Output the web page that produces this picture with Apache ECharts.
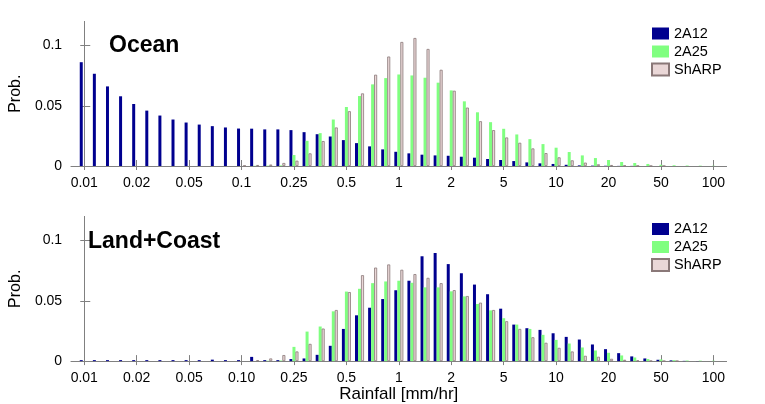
<!DOCTYPE html>
<html>
<head>
<meta charset="utf-8">
<script src="https://cdn.jsdelivr.net/npm/echarts@6/dist/echarts.min.js"></script>
<style>
  html, body { margin: 0; padding: 0; background: #fff; }
  #chart { width: 765px; height: 404px; }
</style>
</head>
<body>
<div id="chart"></div>
<script>
// bin labels (one label every 4 bins, bins 0..48)
const topTickLabels = ['0.01', '0.02', '0.05', '0.1', '0.25', '0.5', '1', '2', '5', '10', '20', '50', '100'];
const bottomTickLabels = ['0.01', '0.02', '0.05', '0.10', '0.25', '0.5', '1', '2', '5', '10', '20', '50', '100'];
const seriesNames = ['2A12', '2A25', 'ShARP'];

// Ocean
const oceanA12 = [0.0862, 0.0766, 0.0661, 0.0579, 0.0515, 0.046, 0.0419, 0.0386, 0.0361, 0.0344, 0.0331, 0.032, 0.0311, 0.031, 0.0304, 0.0304,
  0.0298, 0.0281, 0.0264, 0.0245, 0.0215, 0.019, 0.0163, 0.0138, 0.0118, 0.0105, 0.0094, 0.0088, 0.0085, 0.0077, 0.0069, 0.0058, 0.005,
  0.0041, 0.003, 0.0022, 0.0017, 0.001, 0.0005, 0.0003, 0.0002, 0.0001, 0.0001, 0, 0, 0, 0, 0, 0];
const oceanA25 = [0, 0, 0, 0, 0, 0, 0, 0, 0, 0, 0, 0, 0, 0.0002, 0.0003, 0.0005,
  0.0091, 0.0209, 0.0273, 0.0386, 0.049, 0.0581, 0.0678, 0.073, 0.076, 0.0752, 0.0733, 0.0692, 0.0628, 0.0537, 0.0446, 0.0364, 0.0309,
  0.0262, 0.0223, 0.0182, 0.0152, 0.0116, 0.0088, 0.0066, 0.005, 0.0033, 0.0025, 0.0017, 0.001, 0.0006, 0.0004, 0.0003, 0.0002];
const oceanSharp = [0, 0, 0, 0, 0, 0, 0, 0, 0, 0, 0, 0, 0.0003, 0.0008, 0.0012, 0.0025,
  0.0044, 0.0105, 0.0207, 0.032, 0.0455, 0.0603, 0.0758, 0.0909, 0.103, 0.1063, 0.0972, 0.0799, 0.0625, 0.0485, 0.0372, 0.0298, 0.0237,
  0.0193, 0.0146, 0.0107, 0.0072, 0.0047, 0.0028, 0.0014, 0.0008, 0.0004, 0.0002, 0.0001, 0.0001, 0, 0, 0, 0];

// Land+Coast
const landA12 = [0.0008, 0.0008, 0.0008, 0.0008, 0.0008, 0.0008, 0.0008, 0.0008, 0.0008, 0.0008, 0.0012, 0.0008, 0.0008, 0.0035, 0.0008, 0.0008,
  0.0017, 0.0022, 0.0052, 0.0127, 0.0267, 0.038, 0.0443, 0.0515, 0.0588, 0.0667, 0.087, 0.0897, 0.0805, 0.0729, 0.0635, 0.0555, 0.0435,
  0.0303, 0.0273, 0.0259, 0.0231, 0.0201, 0.0179, 0.0138, 0.0099, 0.0066, 0.0039, 0.0022, 0.0011, 0.0006, 0.0002, 0.0001, 0];
const landA25 = [0, 0, 0, 0, 0, 0, 0, 0, 0, 0, 0, 0, 0, 0, 0.0003, 0.0005,
  0.0118, 0.0245, 0.0287, 0.0413, 0.0577, 0.06, 0.0647, 0.0661, 0.0667, 0.065, 0.0612, 0.0612, 0.0579, 0.0537, 0.0474, 0.0421, 0.0356,
  0.0303, 0.0267, 0.0218, 0.0176, 0.0146, 0.0113, 0.0088, 0.0069, 0.0047, 0.003, 0.0017, 0.0014, 0.0008, 0.0005, 0.0004, 0.0003];
const landSharp = [0, 0, 0, 0, 0, 0, 0, 0, 0, 0, 0, 0, 0, 0.0008, 0.0022, 0.005,
  0.008, 0.0143, 0.027, 0.0424, 0.0573, 0.0713, 0.0776, 0.0802, 0.0758, 0.0722, 0.0691, 0.0647, 0.0589, 0.054, 0.0485, 0.0424, 0.0331,
  0.0267, 0.0198, 0.0152, 0.011, 0.008, 0.0044, 0.0036, 0.0019, 0.0011, 0.0006, 0.0003, 0.0001, 0.0001, 0, 0, 0];

const FONT = '"Liberation Sans", Arial, Helvetica, sans-serif';
const FRAME = '#808080';
const labelBins = topTickLabels.map((_, k) => k * 4);

const chart = echarts.init(document.getElementById('chart'));

// x = bin index, so every bar goes through the value axis; empty bins draw nothing
const toPts = (arr) => arr.map((v, i) => [i, v > 0 ? v : '-']);

function xAxes(gridIndex, labels, withName) {
  return [
    {
      type: 'value', gridIndex, position: 'bottom', min: -1, max: 49,
      name: withName ? 'Rainfall [mm/hr]' : '', nameLocation: 'middle', nameGap: 24,
      nameTextStyle: { fontSize: 17, color: '#000', fontFamily: FONT },
      axisLine: { lineStyle: { color: FRAME } },
      axisTick: { customValues: labelBins, length: 4, lineStyle: { color: FRAME } },
      axisLabel: {
        customValues: labelBins, margin: 10, fontSize: 14, color: '#000', fontFamily: FONT,
        formatter: (v) => labels[Math.round(v / 4)],
      },
      splitLine: { show: false },
    },
    {
      type: 'value', gridIndex, position: 'top', min: -1, max: 49,
      axisLine: { lineStyle: { color: FRAME } },
      axisTick: { customValues: labelBins, length: 6, lineStyle: { color: FRAME } },
      axisLabel: { show: false },
      splitLine: { show: false },
    },
  ];
}

function yAxes(gridIndex) {
  return [
    {
      type: 'value', gridIndex, position: 'left', min: 0, max: 0.12,
      name: 'Prob.', nameLocation: 'middle', nameGap: 40, nameRotate: 90,
      nameTextStyle: { fontSize: 16, color: '#000', fontFamily: FONT },
      axisLine: { show: true, lineStyle: { color: FRAME } },
      axisTick: { show: true, customValues: [0, 0.05, 0.1], length: 4, lineStyle: { color: FRAME } },
      axisLabel: { customValues: [0, 0.05, 0.1], margin: 9, fontSize: 14, color: '#000', fontFamily: FONT },
      splitLine: { show: false },
    },
    {
      type: 'value', gridIndex, position: 'right', min: 0, max: 0.12,
      axisLine: { show: true, lineStyle: { color: FRAME } },
      axisTick: { show: true, customValues: [0, 0.05, 0.1], length: 6, lineStyle: { color: FRAME } },
      axisLabel: { show: false },
      splitLine: { show: false },
    },
  ];
}

function panelSeries(panel, a12, a25, sharp) {
  const common = { type: 'bar', xAxisIndex: panel * 2, yAxisIndex: panel * 2, barWidth: 3, barGap: '0%', animation: false };
  return [
    { ...common, name: seriesNames[0], data: toPts(a12), itemStyle: { color: '#00008f' } },
    { ...common, name: seriesNames[1], data: toPts(a25), itemStyle: { color: '#80ff80' } },
    { ...common, name: seriesNames[2], data: toPts(sharp), itemStyle: { color: '#ead7d7', borderColor: '#8a7878', borderWidth: 0.8 } },
  ];
}

function legendAt(top) {
  return {
    data: seriesNames, orient: 'vertical', left: 651, top, padding: 0,
    itemWidth: 17, itemHeight: 12, itemGap: 3, icon: 'rect',
    textStyle: { fontSize: 14.5, color: '#000', fontFamily: FONT },
  };
}

const option = {
  backgroundColor: '#fff',
  animation: false,
  title: [
    { text: 'Ocean', left: 109, top: 34.5, padding: 0, textStyle: { fontSize: 23, fontWeight: 'bold', color: '#000', fontFamily: FONT } },
    { text: 'Land+Coast', left: 88, top: 230, padding: 0, textStyle: { fontSize: 23, fontWeight: 'bold', color: '#000', fontFamily: FONT } },
  ],
  legend: [legendAt(26), legendAt(221.5)],
  grid: [
    { left: 67.5, width: 659, top: 21.5, height: 144.5 },
    { left: 67.5, width: 659, top: 216.5, height: 145.5 },
  ],
  xAxis: [...xAxes(0, topTickLabels, false), ...xAxes(1, bottomTickLabels, true)],
  yAxis: [...yAxes(0), ...yAxes(1)],
  series: [
    ...panelSeries(0, oceanA12, oceanA25, oceanSharp),
    ...panelSeries(1, landA12, landA25, landSharp),
  ],
};

chart.setOption(option);
</script>
</body>
</html>
